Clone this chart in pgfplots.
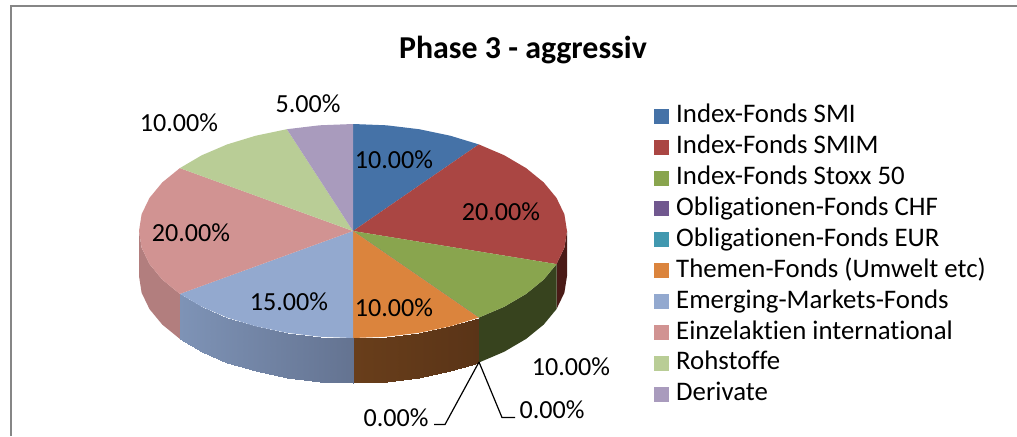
\documentclass[border=0pt]{standalone}
\usepackage{pgfplots}
\pgfplotsset{compat=1.18}
\usepackage{fontspec}
\setmainfont[Ligatures=NoCommon]{Carlito}
\definecolor{c1}{HTML}{4572A7}
\definecolor{c2}{HTML}{AA4643}
\definecolor{c3}{HTML}{89A54E}
\definecolor{c4}{HTML}{71588F}
\definecolor{c5}{HTML}{4198AF}
\definecolor{c6}{HTML}{DB843D}
\definecolor{c7}{HTML}{93A9CF}
\definecolor{c8}{HTML}{D19392}
\definecolor{c9}{HTML}{B9CD96}
\definecolor{c10}{HTML}{A99BBD}
\definecolor{w2}{HTML}{4A1B17}
\definecolor{w3}{HTML}{37431E}
\definecolor{w6a}{HTML}{7D4C20}
\definecolor{w6b}{HTML}{5A3417}
\definecolor{w7a}{HTML}{7E93B6}
\definecolor{w7b}{HTML}{515C76}
\definecolor{w8}{HTML}{B27E7E}
\definecolor{frame}{HTML}{868686}
\newcommand{\lab}{\fontsize{26.2}{26.2}\selectfont}
\begin{document}
\begin{tikzpicture}
\begin{axis}[
  scale only axis, width=1017bp, height=436bp,
  xmin=0, xmax=1017, ymin=0, ymax=436, y dir=reverse,
  axis lines=none, clip=false,
  legend style={at={(axis cs:654,103.5)}, anchor=north west, draw=none, fill=none,
    font=\fontsize{26.9}{26.9}\selectfont, row sep=5.9bp, inner sep=0pt,
    nodes={inner sep=0pt, anchor=west, text height=19bp, text depth=6bp}},
  legend cell align=left,
  legend image code/.code={\path[#1, draw=none] (0bp,-7.5bp) rectangle (15bp,7.5bp); \path (22bp,0bp);},
  every axis plot/.append style={line width=0pt},
]
\path[use as bounding box] (axis cs:0,0) rectangle (axis cs:1017,436);
% chart frame
\addplot[forget plot, frame, line width=2bp] coordinates {(10.7,436) (10.7,6) (1017,6)};
% side walls
\addplot[forget plot, fill=w2, draw=none] coordinates {(567,231) (564.4,247.7) (556.5,264.1) (556.5,309.1) (564.4,292.7) (567,276)} --cycle;
\addplot[forget plot, fill=w3, draw=none] coordinates {(556.5,264.1) (543.7,279.6) (526.1,293.9) (504.3,306.7) (478.8,317.6) (478.8,362.6) (504.3,351.7) (526.1,338.9) (543.7,324.6) (556.5,309.1)} --cycle;
\addplot[forget plot, fill=w8, draw=none] coordinates {(179.9,293.9) (162.3,279.6) (149.5,264.1) (141.6,247.7) (139,231) (139,276) (141.6,292.7) (149.5,309.1) (162.3,324.6) (179.9,338.9)} --cycle;
\addplot[forget plot, patch, patch type=rectangle, shader=interp, point meta=x,
  colormap={wo}{color=(w6a) color=(w6b)}] table {
x y
353 338
386.5 336.7
386.5 381.7
353 383
386.5 336.7
419.1 332.8
419.1 377.8
386.5 381.7
419.1 332.8
450.2 326.3
450.2 371.3
419.1 377.8
450.2 326.3
478.8 317.6
478.8 362.6
450.2 371.3
};
\addplot[forget plot, patch, patch type=rectangle, shader=interp, point meta=x,
  colormap={wb}{color=(w7a) color=(w7b)}] table {
x y
179.9 293.9
201.7 306.7
201.7 351.7
179.9 338.9
201.7 306.7
227.2 317.6
227.2 362.6
201.7 351.7
227.2 317.6
255.8 326.3
255.8 371.3
227.2 362.6
255.8 326.3
286.9 332.8
286.9 377.8
255.8 371.3
286.9 332.8
319.5 336.7
319.5 381.7
286.9 377.8
319.5 336.7
353 338
353 383
319.5 381.7
};
% top of the pie: one polygon per fund
\addplot[fill=c1, draw=none] coordinates {(353,231) (353,124) (386.5,125.3) (419.1,129.2) (450.2,135.7) (478.8,144.4)} --cycle;
\addlegendentry{Index-Fonds SMI}
\addplot[fill=c2, draw=none] coordinates {(353,231) (478.8,144.4) (504.3,155.3) (526.1,168.1) (543.7,182.4) (556.5,197.9) (564.4,214.3) (567,231) (564.4,247.7) (556.5,264.1)} --cycle;
\addlegendentry{Index-Fonds SMIM}
\addplot[fill=c3, draw=none] coordinates {(353,231) (556.5,264.1) (543.7,279.6) (526.1,293.9) (504.3,306.7) (478.8,317.6)} --cycle;
\addlegendentry{Index-Fonds Stoxx 50}
\addplot[fill=c4, draw=none] coordinates {(353,231) (478.8,317.6)} --cycle;
\addlegendentry{Obligationen-Fonds CHF}
\addplot[fill=c5, draw=none] coordinates {(353,231) (478.8,317.6)} --cycle;
\addlegendentry{Obligationen-Fonds EUR}
\addplot[fill=c6, draw=none] coordinates {(353,231) (478.8,317.6) (450.2,326.3) (419.1,332.8) (386.5,336.7) (353,338)} --cycle;
\addlegendentry{Themen-Fonds (Umwelt etc)}
\addplot[fill=c7, draw=none] coordinates {(353,231) (353,338) (319.5,336.7) (286.9,332.8) (255.8,326.3) (227.2,317.6) (201.7,306.7) (179.9,293.9)} --cycle;
\addlegendentry{Emerging-Markets-Fonds}
\addplot[fill=c8, draw=none] coordinates {(353,231) (179.9,293.9) (162.3,279.6) (149.5,264.1) (141.6,247.7) (139,231) (141.6,214.3) (149.5,197.9) (162.3,182.4) (179.9,168.1)} --cycle;
\addlegendentry{Einzelaktien international}
\addplot[fill=c9, draw=none] coordinates {(353,231) (179.9,168.1) (201.7,155.3) (227.2,144.4) (255.8,135.7) (286.9,129.2)} --cycle;
\addlegendentry{Rohstoffe}
\addplot[fill=c10, draw=none] coordinates {(353,231) (286.9,129.2) (319.5,125.3) (353,124)} --cycle;
\addlegendentry{Derivate}
% leader lines
\addplot[forget plot, black, line width=1.2bp] coordinates {(479,362) (445,424.5) (434,424.5)};
\addplot[forget plot, black, line width=1.2bp] coordinates {(479,362) (502,417.5) (515,417.5)};
% labels
\node[font=\lab] at (axis cs:394,160) {10.00\%};
\node[font=\lab] at (axis cs:501,212) {20.00\%};
\node[font=\lab] at (axis cs:571,367) {10.00\%};
\node[font=\lab] at (axis cs:552,410) {0.00\%};
\node[font=\lab] at (axis cs:396,418) {0.00\%};
\node[font=\lab] at (axis cs:394,308) {10.00\%};
\node[font=\lab] at (axis cs:289,302) {15.00\%};
\node[font=\lab] at (axis cs:191,233) {20.00\%};
\node[font=\lab] at (axis cs:179,123) {10.00\%};
\node[font=\lab] at (axis cs:308,104) {5.00\%};
\node[font=\fontsize{32}{32}\selectfont\bfseries] at (axis cs:523,50) {Phase 3 - aggressiv};
\end{axis}
\end{tikzpicture}
\end{document}
